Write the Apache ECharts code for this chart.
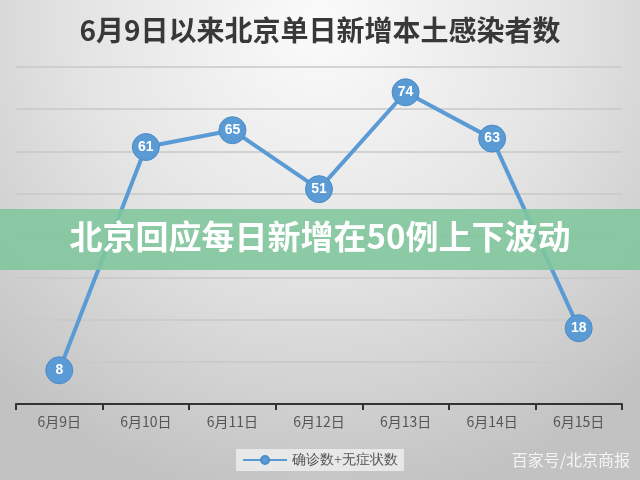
<!DOCTYPE html>
<html><head><meta charset="utf-8">
<script src="https://cdn.jsdelivr.net/npm/echarts@6/dist/echarts.min.js"></script>
<style>html,body{margin:0;padding:0;}#c{width:640px;height:480px;}</style>
</head><body><div id="c"></div>
<script>
const titleText = '6月9日以来北京单日新增本土感染者数';
const bannerText = '北京回应每日新增在50例上下波动';
const sourceText = '百家号/北京商报';
const seriesName = '确诊数+无症状数';
const categories = ['6月9日','6月10日','6月11日','6月12日','6月13日','6月14日','6月15日'];
const values = [8, 61, 65, 51, 74, 63, 18];

const chart = echarts.init(document.getElementById('c'));
chart.setOption({
  backgroundColor: {
    type: 'radial', x: 0.5, y: 0.05, r: 1.0,
    colorStops: [{offset: 0, color: '#fbfbfb'}, {offset: 0.5, color: '#e4e4e4'}, {offset: 1, color: '#c2c2c2'}]
  },
  title: {
    text: titleText, left: 'center', top: 11,
    textStyle: {fontFamily: 'Noto Sans CJK SC', fontSize: 28, fontWeight: 'bold', color: '#383838'}
  },
  legend: {
    data: [seriesName], bottom: 9, left: 'center',
    backgroundColor: '#e8e8e8', padding: [4, 6], itemWidth: 44, itemHeight: 10,
    textStyle: {fontFamily: 'serif', fontSize: 14, color: '#555'}
  },
  grid: {left: 16, right: 18, top: 67, bottom: 76},
  xAxis: {
    type: 'category', data: categories, boundaryGap: true,
    axisLine: {lineStyle: {color: '#333', width: 2}},
    axisTick: {show: true, length: 6, lineStyle: {color: '#333', width: 2}},
    axisLabel: {fontFamily: 'Noto Sans CJK SC', fontSize: 14, color: '#555', margin: 11}
  },
  yAxis: {
    type: 'value', min: 0, max: 80, interval: 10,
    axisLabel: {show: false}, axisLine: {show: false}, axisTick: {show: false},
    splitLine: {lineStyle: {color: '#c8c8c8', width: 1.5}}
  },
  series: [{
    name: seriesName, type: 'line', data: values,
    symbol: 'circle', symbolSize: 27,
    lineStyle: {color: '#5b9bd5', width: 4},
    itemStyle: {color: '#5b9bd5', borderColor: '#4a8bc8', borderWidth: 1},
    label: {show: true, position: 'inside', color: '#fff', fontWeight: 'bold', fontSize: 14, fontFamily: 'Arial'},
    z: 3
  }],
  graphic: [
    {type: 'rect', left: 0, top: 209, shape: {width: 640, height: 61}, style: {fill: 'rgba(128,198,156,0.88)'}, z: 100},
    {type: 'text', left: 'center', top: 220, style: {text: bannerText, fill: '#fff', font: 'bold 33px "Noto Sans CJK SC"'}, z: 101},
    {type: 'text', right: 10, top: 452, style: {text: sourceText, fill: '#f4f4f4', font: '16px "Noto Sans CJK SC"'}, z: 101}
  ]
});
</script></body></html>
